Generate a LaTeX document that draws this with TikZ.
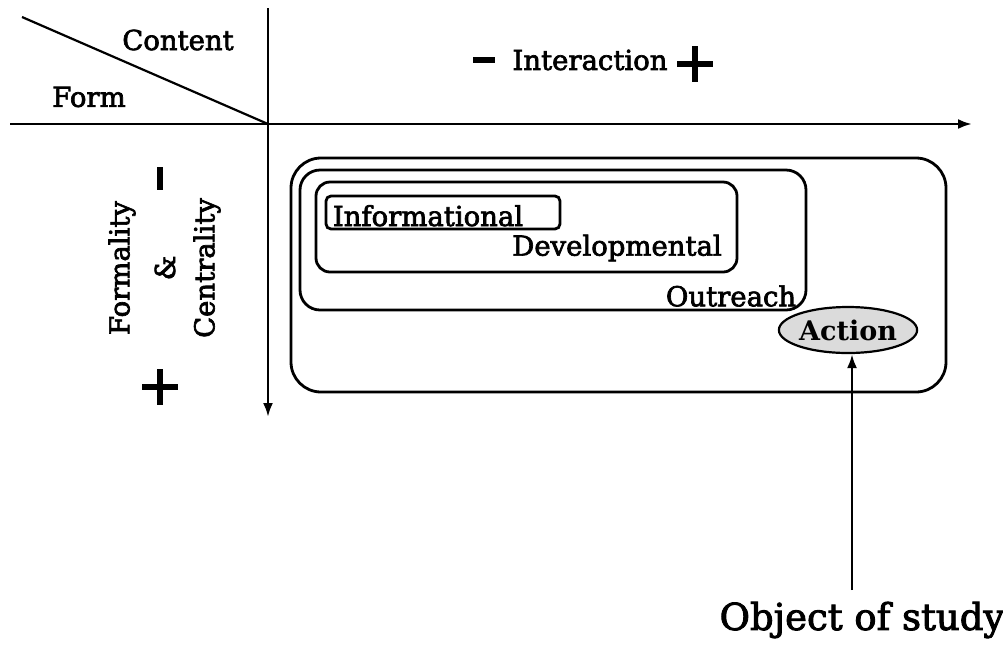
\documentclass[tikz,border=0pt]{standalone}
\usepackage{fontspec}
\setmainfont{DejaVu Serif}
\newfontfamily\heavy{DejaVu Serif}[FakeBold=2.5]
\usetikzlibrary{arrows.meta,shapes.geometric}
\begin{document}
\begin{tikzpicture}[x=1pt,y=-1pt,
  lbl/.style={inner sep=0pt,font=\heavy\fontsize{27.5}{30}\selectfont},
  sgn/.style={line width=6.5pt},
  axis/.style={line width=2.6pt,-{Latex[length=14pt,width=10pt]}},
  box/.style={draw,line width=2.8pt}]
\useasboundingbox (0,0) rectangle (1003,649);
% axes
\coordinate (O) at (268,124);
\coordinate (xs) at (10,124);
\coordinate (xe) at (972,124);
\coordinate (ys) at (268,8);
\coordinate (ye) at (268,417);
\coordinate (d) at (22,17);
\draw[axis] (xs) -- (xe);
\draw[axis] (ys) -- (ye);
\draw[line width=2.2pt] (d) -- (O);
\node[lbl] (content) at (178,40) {Content};
\node[lbl] (form) at (89,97) {Form};
\node[lbl] (inter) at (590,60) {Interaction};
% signs
\draw[sgn] (473,60) -- (495,60);
\draw[sgn] (677,64) -- (713,64) (695,46) -- (695,82);
\draw[sgn] (160,167) -- (160,190);
\draw[sgn] (142,387) -- (178,387) (160,369) -- (160,405);
\node[lbl,rotate=90] (formality) at (122,268) {Formality};
\node[lbl,rotate=90] (amp) at (165,268) {\&};
\node[lbl,rotate=90] (central) at (207,268) {Centrality};
% boxes
\draw[box,rounded corners=30pt] (291,158) rectangle (946,392);
\draw[box,rounded corners=20pt] (300,170) rectangle (806,310);
\draw[box,rounded corners=14pt] (316,182) rectangle (737,272);
\draw[box,rounded corners=5pt] (326,196) rectangle (560,229);
\node[lbl,anchor=base] (info) at (428,226) {Informational};
\node[lbl] (dev) at (617,248) {Developmental};
\node[lbl] (out) at (731,296) {Outreach};
\node[ellipse,draw,line width=2.2pt,fill=black!14,minimum width=130pt,minimum height=46pt,inner sep=0pt,font=\fontsize{27}{30}\selectfont\bfseries] (action) at (848,330) {Action};
\node[inner sep=0pt,font=\heavy\fontsize{37}{40}\selectfont] (obj) at (862,620) {Object of study};
\coordinate (ob) at (852,590);
\draw[line width=2.6pt,-{Latex[length=14pt,width=10pt]}] (ob) -- (ob |- action.south);
\end{tikzpicture}
\end{document}
